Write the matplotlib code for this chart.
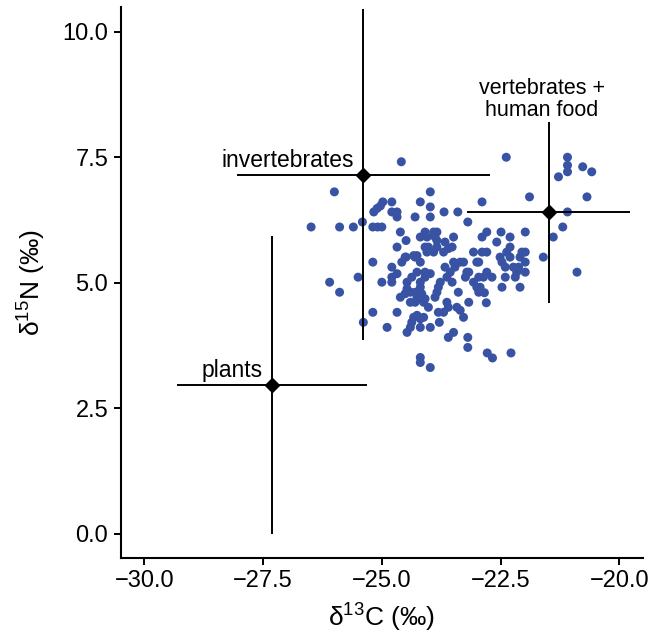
import matplotlib
matplotlib.use("Agg")
import matplotlib.pyplot as plt

plt.rcParams['font.family'] = ['Liberation Sans', 'DejaVu Sans']
plt.rcParams['mathtext.fontset'] = 'custom'
plt.rcParams['mathtext.rm'] = 'Liberation Sans'
plt.rcParams['mathtext.default'] = 'rm'

# consumer samples (d13C, d15N)
d13c = [
    -24.59, -26.00, -23.98, -24.98, -25.03, -25.10, -25.17, -24.79, -24.19, -23.98,
    -24.79, -24.68, -24.68, -23.69, -23.40, -24.30, -23.98, -23.19, -25.41, -26.49,
    -25.89, -25.60, -25.19, -25.09, -25.00, -24.61, -24.09, -23.91, -23.84, -24.49,
    -24.19, -24.05, -23.88, -23.84, -23.49, -23.67, -24.68, -24.09, -24.02, -24.05,
    -23.84, -23.91, -23.60, -23.52, -23.07, -24.33, -24.26, -24.51,
    -25.19, -24.79, -24.58, -24.49, -24.30, -24.19, -23.70, -23.49, -23.35, -23.28,
    -22.96, -26.10, -25.89, -25.50, -25.00, -24.79, -24.68, -24.79, -24.47, -24.37,
    -24.26, -24.09, -23.98, -24.09, -24.19, -24.19, -23.67, -23.56, -23.46, -23.63,
    -23.52, -23.17, -23.24, -23.07, -23.00, -22.96, -23.77, -23.81, -23.84, -23.88,
    -24.47, -24.40, -24.51, -24.30, -24.23, -24.16, -24.26, -24.19, -24.09, -24.61,
    -24.40, -24.30, -24.12, -24.02, -23.39, -23.17, -23.63, -23.60, -23.70, -23.81,
    -23.42, -23.35, -23.28, -25.19, -24.68, -25.39, -24.89, -24.33, -24.26, -24.19,
    -24.12, -24.37, -24.40, -24.19, -23.98, -23.79, -24.47, -23.49, -23.60, -23.19,
    -23.19, -24.19, -24.19, -23.98,
    -22.38, -21.09, -21.09, -21.09, -20.77, -20.58, -21.28, -21.89, -20.68, -22.89,
    -21.09, -21.19, -21.39, -22.79, -22.89, -22.49, -22.30, -21.98, -22.58, -22.30,
    -22.37, -22.05, -21.98, -22.89, -22.79, -22.51, -22.30, -22.09, -21.98, -21.60,
    -23.00, -22.47, -22.40, -22.23, -22.12, -21.98, -22.16, -20.89, -23.21, -22.96,
    -22.86, -22.79, -22.68, -22.93, -22.40, -22.47, -22.19, -22.09,
    -22.84, -22.80, -22.78, -22.67, -22.28,
]
d15n = [
    7.41, 6.81, 6.81, 6.61, 6.53, 6.48, 6.41, 6.61, 6.61, 6.51,
    6.41, 6.41, 6.31, 6.41, 6.41, 6.31, 6.31, 6.21, 6.21, 6.11,
    6.11, 6.11, 6.11, 6.11, 6.11, 6.01, 6.01, 6.01, 6.01, 5.84,
    5.91, 5.91, 5.91, 5.84, 5.91, 5.81, 5.71, 5.71, 5.71, 5.61,
    5.71, 5.61, 5.68, 5.71, 5.61, 5.54, 5.54, 5.51,
    5.41, 5.31, 5.41, 5.51, 5.51, 5.41, 5.61, 5.41, 5.41, 5.41,
    5.41, 5.01, 4.81, 5.11, 5.01, 5.11, 5.18, 5.01, 5.01, 5.11,
    5.21, 5.21, 5.18, 5.11, 5.01, 4.91, 5.31, 5.21, 5.31, 5.11,
    5.01, 5.21, 5.11, 5.01, 4.91, 4.81, 5.01, 4.91, 4.81, 4.71,
    4.88, 4.81, 4.78, 4.81, 4.81, 4.78, 4.71, 4.68, 4.68, 4.71,
    4.61, 4.61, 4.61, 4.51, 4.81, 4.61, 4.61, 4.51, 4.41, 4.41,
    4.51, 4.45, 4.31, 4.41, 4.41, 4.21, 4.11, 4.31, 4.35, 4.28,
    4.31, 4.21, 4.11, 4.11, 4.11, 4.21, 4.01, 4.01, 3.91, 3.91,
    3.71, 3.51, 3.41, 3.31,
    7.50, 7.50, 7.34, 7.21, 7.31, 7.21, 7.11, 6.71, 6.71, 6.61,
    6.41, 6.11, 5.91, 6.01, 5.91, 6.01, 5.91, 6.01, 5.81, 5.71,
    5.61, 5.61, 5.61, 5.61, 5.61, 5.51, 5.51, 5.51, 5.41, 5.51,
    5.41, 5.41, 5.31, 5.31, 5.31, 5.21, 5.21, 5.21, 5.21, 5.11,
    5.11, 5.21, 5.11, 4.91, 5.11, 4.91, 5.11, 4.91,
    4.80, 4.60, 3.60, 3.50, 3.60,
]

# food sources: mean and sd
src_names = ['plants', 'invertebrates', 'vertebrates +\nhuman food']
src_c = [-27.31, -25.39, -21.49]
src_c_sd = [2.0, 2.67, 1.71]
src_n = [2.97, 7.15, 6.40]
src_n_sd = [2.97, 3.30, 1.80]

x_ticks = [-30, -27.5, -25, -22.5, -20]
y_ticks = [0, 2.5, 5, 7.5, 10]

fig = plt.figure(figsize=(6.65, 6.43), dpi=100)
ax = fig.add_axes([120.7 / 665, 1 - 557.7 / 643, (643 - 120.7) / 665, (557.7 - 6.7) / 643])

ax.scatter(d13c, d15n, s=42, color='#3953a4', edgecolors='none', zorder=2)

ax.errorbar(src_c, src_n, xerr=src_c_sd, yerr=src_n_sd, fmt='D', color='black',
            ms=7.5, elinewidth=1.4, capsize=0, zorder=3)

# labels for the sources
ax.annotate(src_names[0], (src_c[0], src_n[0]), xytext=(-7, 2), textcoords='offset points',
            ha='right', va='bottom', fontsize=16.5)
ax.annotate(src_names[1], (src_c[1], src_n[1]), xytext=(-7, 2), textcoords='offset points',
            ha='right', va='bottom', fontsize=16.5)
ax.text(-21.63, 8.32, src_names[2], ha='center', va='baseline', fontsize=15.5,
        linespacing=1.05)

ax.set_xlim(-30.5, -19.5)
ax.set_ylim(-0.48, 10.5)
ax.set_xticks(x_ticks)
ax.set_yticks(y_ticks)
# long minus sign like the original
ax.set_xticklabels([f'{v:.1f}'.replace('-', '\u2212') for v in x_ticks])
ax.set_yticklabels([f'{v:.1f}' for v in y_ticks])

for side in ['top', 'right']:
    ax.spines[side].set_visible(False)
for side in ['left', 'bottom']:
    ax.spines[side].set_linewidth(1.5)
ax.tick_params(width=1.4, length=5, labelsize=17, colors='black', pad=4)

ax.set_xlabel(r'δ$^{13}$C (‰)', fontsize=19, labelpad=7)
ax.set_ylabel(r'δ$^{15}$N (‰)', fontsize=19, labelpad=10)

fig.savefig('out.png', dpi=100)
